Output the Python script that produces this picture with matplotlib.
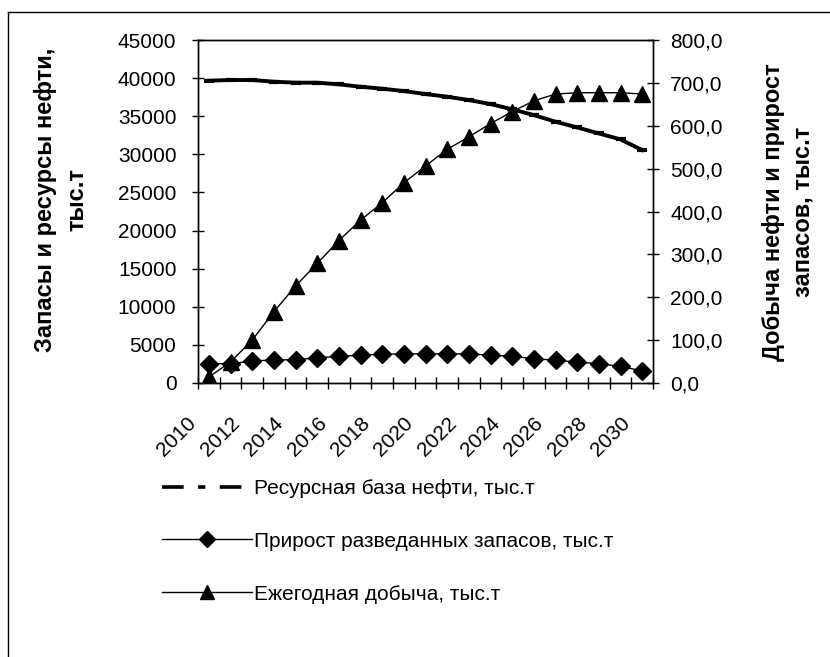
import matplotlib
matplotlib.use("Agg")
import matplotlib.pyplot as plt
from matplotlib.lines import Line2D
from matplotlib.ticker import FuncFormatter, FixedLocator
from matplotlib.transforms import ScaledTranslation
import numpy as np

plt.rcParams['font.family'] = ['Liberation Sans', 'DejaVu Sans']

years = list(range(2010, 2031))
resource_base = [39660, 39750, 39750, 39530, 39400, 39400, 39180, 38870, 38610, 38300,
                 37910, 37560, 37120, 36600, 35900, 35150, 34280, 33530, 32740, 31960, 30560]
reserve_growth = [45, 45, 51, 54, 54, 59, 62, 65, 67, 68, 68, 68, 68, 65, 62, 57, 53, 49, 45, 39, 28]
production = [14, 49, 100, 166, 226, 279, 332, 380, 420, 467, 506, 545, 574, 605, 633,
              658, 674, 677, 677, 677, 674]

label_res = "Ресурсная база нефти, тыс.т"
label_grow = "Прирост разведанных запасов, тыс.т"
label_prod = "Ежегодная добыча, тыс.т"
left_ylabel = "Запасы и ресурсы нефти,\nтыс.т"
right_ylabel = "Добыча нефти и прирост\nзапасов, тыс.т"

W, H = 830, 657
fig = plt.figure(figsize=(W / 100, H / 100), dpi=100)
fs = 15

x = np.arange(len(years))
ax = fig.add_axes([198 / W, 1 - 383 / H, (653 - 198) / W, (383 - 40) / H])
ax2 = ax.twinx()

ax.plot(x, resource_base, color='black', lw=2.8, marker='_', ms=7, mew=3, zorder=3)
ax2.plot(x, reserve_growth, color='black', lw=1.0, marker='D', ms=9, zorder=3)
ax2.plot(x, production, color='black', lw=1.0, marker='^', ms=11.5, zorder=4)

ax.set_xlim(-0.5, len(years) - 0.5)
ax.set_ylim(0, 45000)
ax2.set_ylim(0, 800)
ax.set_yticks(np.arange(0, 45001, 5000))
ax2.set_yticks(np.arange(0, 801, 100))
ax2.yaxis.set_major_formatter(FuncFormatter(lambda v, p: f"{v:.1f}".replace('.', ',')))

ax.set_xticks(x[::2])
ax.set_xticklabels([str(y) for y in years[::2]], rotation=45, ha='right', va='top',
                   rotation_mode='anchor', fontsize=fs)
ax.tick_params(axis='x', which='major', length=0, pad=22)
shift = ScaledTranslation(-22 / 100, 0, fig.dpi_scale_trans)
for lab in ax.get_xticklabels():
    lab.set_transform(lab.get_transform() + shift)
ax.xaxis.set_minor_locator(FixedLocator(np.arange(-0.5, len(years), 1.0)))
ax.tick_params(axis='x', which='minor', direction='inout', length=9, width=1)

ax.tick_params(axis='y', direction='inout', length=9, width=1, labelsize=fs, pad=11)
ax2.tick_params(axis='y', direction='inout', length=9, width=1, labelsize=fs, pad=8)

for a in (ax, ax2):
    for s in a.spines.values():
        s.set_linewidth(1.0)
        s.set_color('black')

fig.text(61 / W, 1 - 200 / H, left_ylabel, rotation=90, ha='center', va='center',
         fontsize=17, fontweight='bold', multialignment='center', linespacing=1.45)
fig.text(788 / W, 1 - 212 / H, right_ylabel, rotation=90, ha='center', va='center',
         fontsize=17, fontweight='bold', multialignment='center', linespacing=1.35)

handles = [
    Line2D([], [], color='black', lw=2.6, linestyle=(0, (6, 4, 2, 4, 6))),
    Line2D([], [], color='black', lw=1.0, marker='D', ms=8),
    Line2D([], [], color='black', lw=1.0, marker='^', ms=10),
]
fig.legend(handles, [label_res, label_grow, label_prod], loc='upper left',
           bbox_to_anchor=(162 / W, 1 - 479 / H), frameon=False, fontsize=fs,
           handlelength=4.3, handletextpad=0.1, labelspacing=1.62, numpoints=1,
           borderpad=0, borderaxespad=0)

# outer chart frame
fig.add_artist(Line2D([8 / W, 8 / W], [1 - 12 / H, 0], transform=fig.transFigure,
                      color='black', lw=1))
fig.add_artist(Line2D([8 / W, 1], [1 - 12 / H, 1 - 12 / H], transform=fig.transFigure,
                      color='black', lw=1))

fig.savefig("out.png", dpi=100)
